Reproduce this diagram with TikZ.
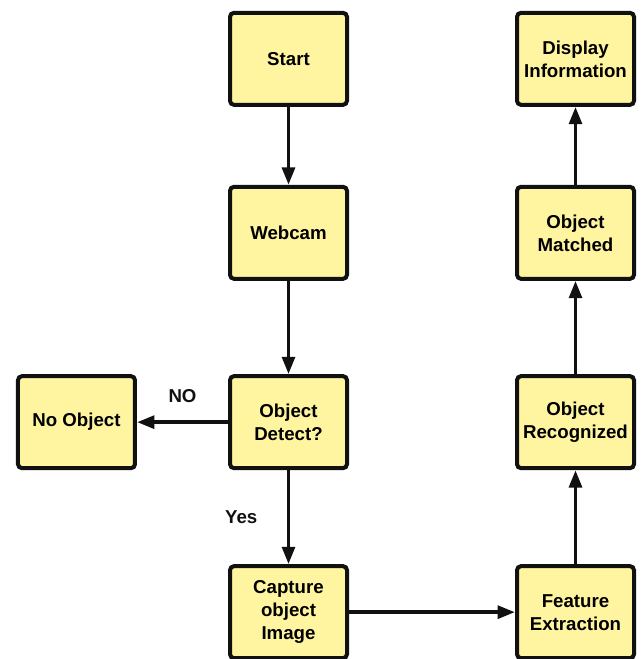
\documentclass[tikz,border=0pt]{standalone}
\usepackage{fontspec}
\setmainfont{Liberation Sans}
\usepackage{tikz}
\usetikzlibrary{arrows.meta,positioning}
\definecolor{ink}{HTML}{111111}
\definecolor{paleyellow}{HTML}{FFF5A0}

\begin{document}
\begin{tikzpicture}[font=\fontsize{14pt}{17.25pt}\selectfont\bfseries,
   stage/.style={draw=ink,fill=paleyellow,line width=3pt,rounded corners=3pt,
                 minimum width=87.75pt,minimum height=69pt,align=center,inner sep=2pt},
   flow/.style={draw=ink,line width=2.8pt,-{Triangle[length=13pt,width=9.5pt]}},
   lbl/.style={inner sep=0pt,text=ink}]
  \useasboundingbox (-216.375pt,44.625pt) rectangle (264.375pt,-449.625pt);
  % left column
  \node[stage] (start) at (0,0.5pt) {Start};
  \node[stage,below=58.5pt of start] (webcam) {Webcam};
  \node[stage,below=70pt of webcam] (detect) {Object\\Detect?};
  \node[stage,left=68.25pt of detect] (noobj) {No Object};
  \node[stage,below=70.5pt of detect] (capture) {Capture\\object\\Image};
  % right column
  \node[stage,right=124.5pt of capture] (feature) {Feature\\Extraction};
  \node[stage,above=70.5pt of feature] (recog) {Object\\Recognized};
  \node[stage,above=70pt of recog] (matched) {Object\\Matched};
  \node[stage,above=58.5pt of matched] (display) {Display\\Information};

  \draw[flow] (start) -- (webcam);
  \draw[flow] (webcam) -- (detect);
  \draw[flow] (detect) -- node[lbl,midway,above=13pt] {NO} (noobj);
  \draw[flow] (detect) -- node[lbl,midway,left=22pt] {Yes} (capture);
  \draw[flow] (capture) -- (feature);
  \draw[flow] (feature) -- (recog);
  \draw[flow] (recog) -- (matched);
  \draw[flow] (matched) -- (display);
\end{tikzpicture}
\end{document}
